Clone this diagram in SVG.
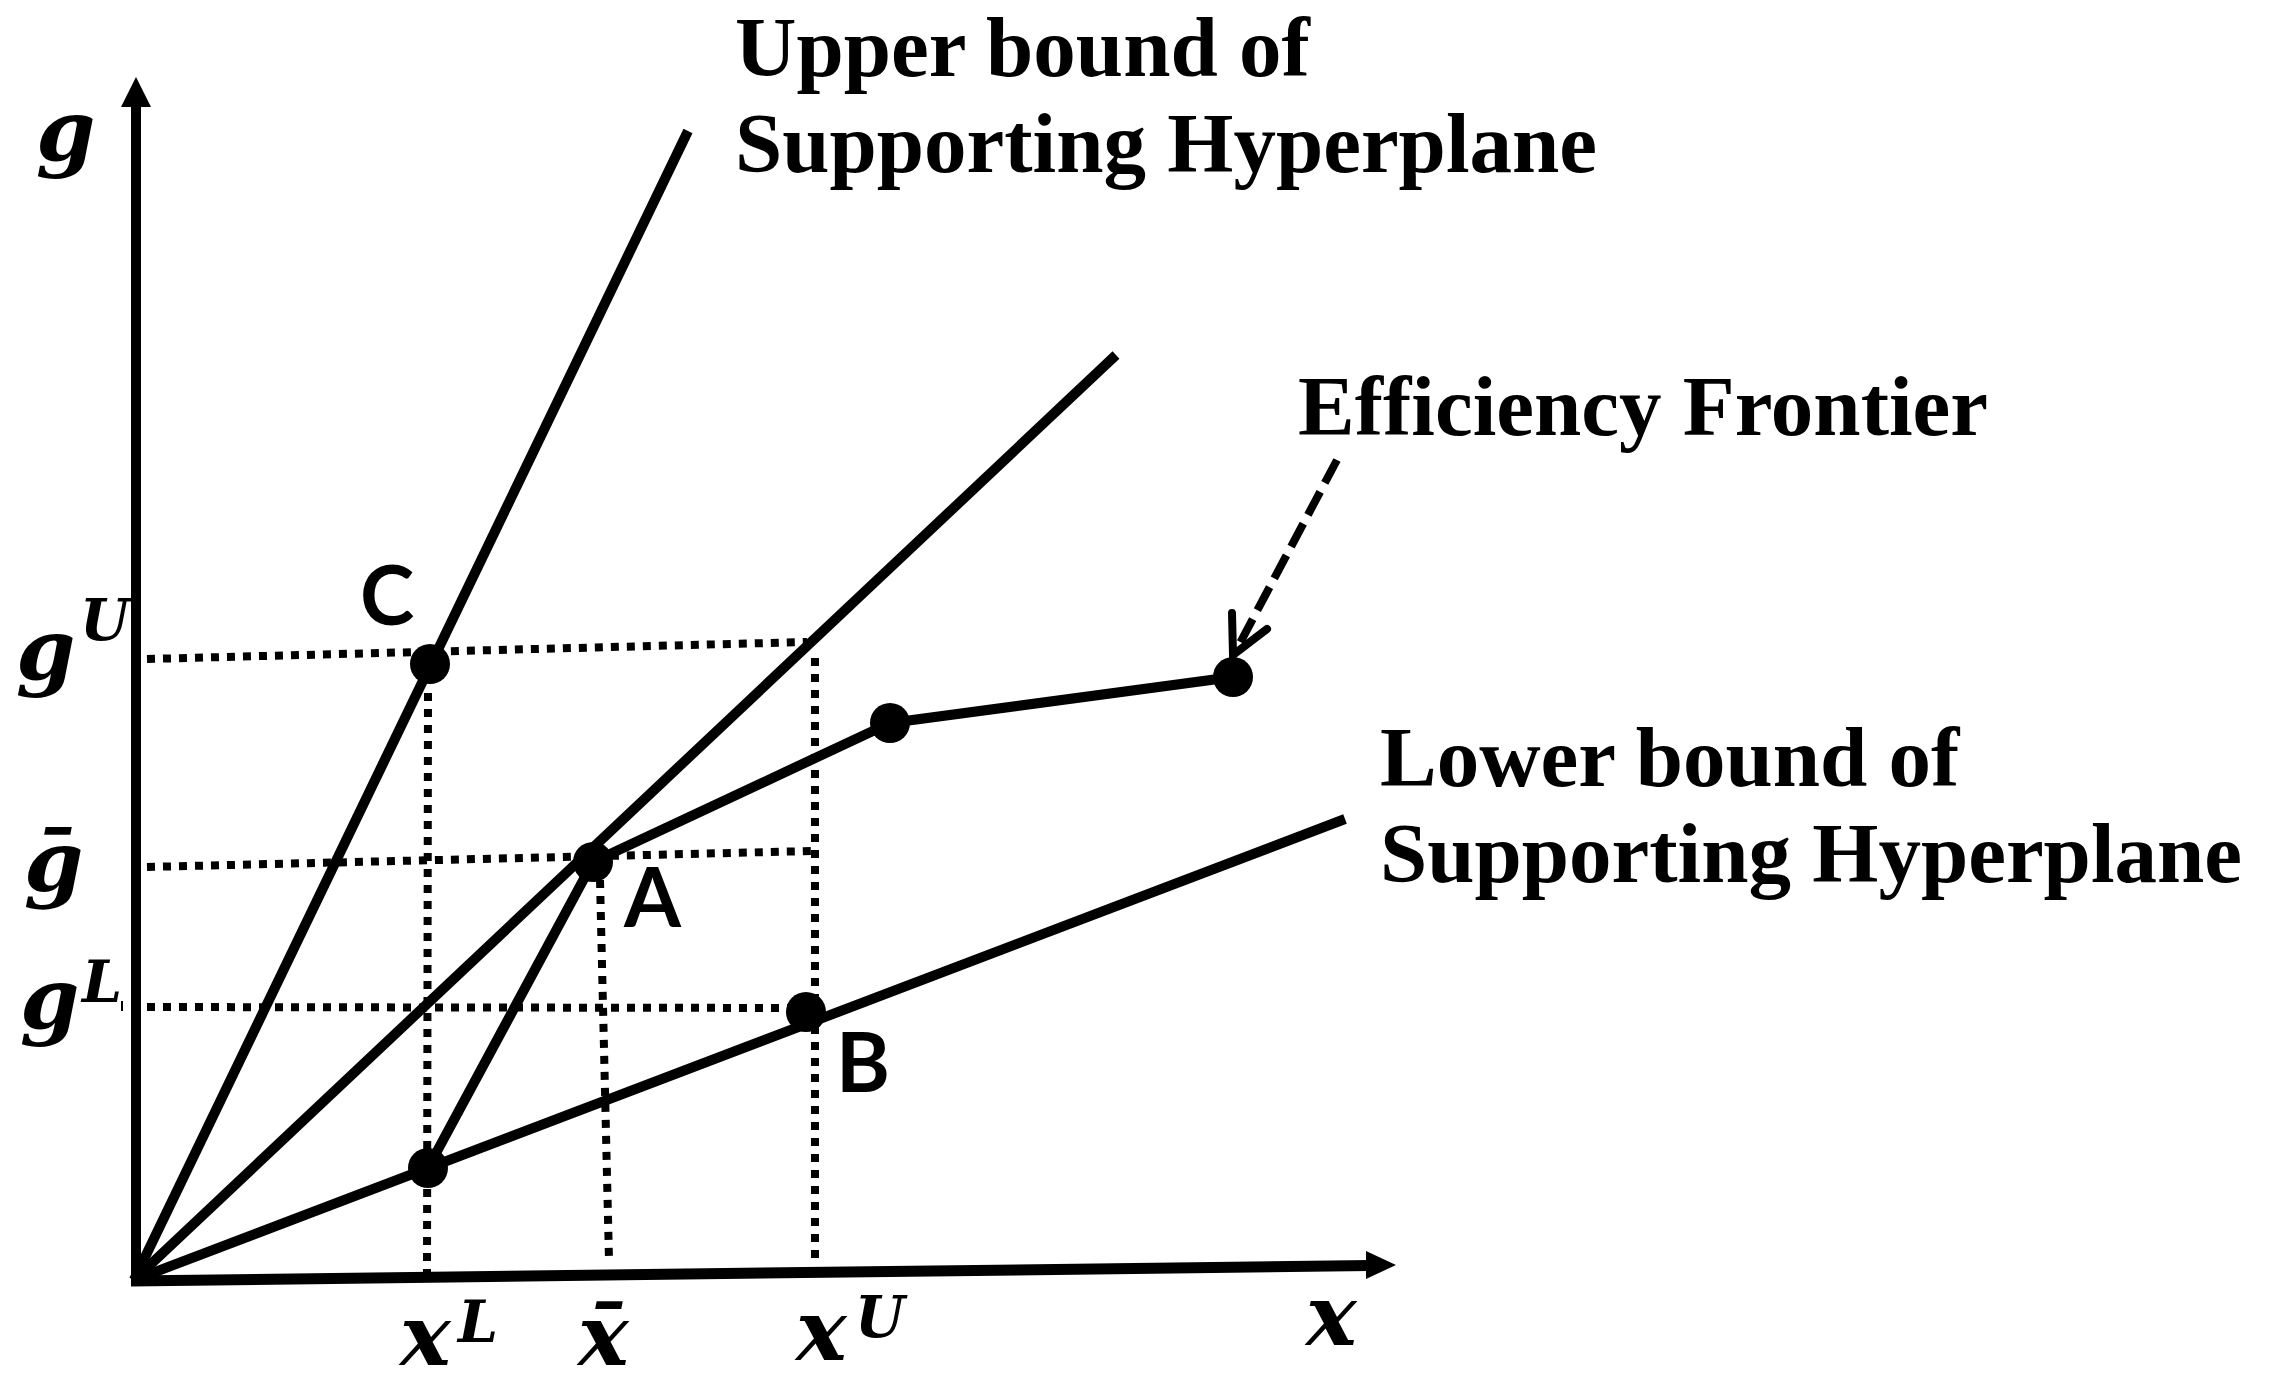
<svg xmlns="http://www.w3.org/2000/svg" width="2272" height="1387" viewBox="0 0 2272 1387">
<defs>
<style>
.ln{stroke:#000;stroke-width:10;fill:none;stroke-linecap:butt;stroke-linejoin:round}
.dot{stroke:#000;stroke-width:8;fill:none;stroke-dasharray:8 8}
.dash{stroke:#000;stroke-width:8;fill:none;stroke-dasharray:26 10}
.pt{fill:#000}
.title{font-family:"Liberation Serif","Times New Roman",serif;font-weight:bold;font-size:85px;fill:#000}
.math{font-family:"DejaVu Serif",serif;font-weight:bold;font-style:italic;font-size:85px;fill:#000}
.sup{font-family:"DejaVu Serif",serif;font-weight:bold;font-style:italic;font-size:57px;fill:#000}
.pl{font-family:Lato,"Open Sans",sans-serif;font-weight:bold;font-size:82px;fill:#000}
</style>
</defs>
<rect width="2272" height="1387" fill="#fff"/>
<g id="axes">
<line class="ln" x1="136" y1="1286" x2="136" y2="100"/>
<polygon points="136,77 121,107 151,107" fill="#000"/>
<line x1="131" y1="1281" x2="1370" y2="1265.5" stroke="#000" stroke-width="11"/>
<polygon points="1396,1265 1366,1251 1366,1279" fill="#000"/>
<line x1="122" y1="1001" x2="122" y2="1011" stroke="#000" stroke-width="2"/>
</g>
<g id="connectors">
<line class="ln" x1="134" y1="1280" x2="688" y2="131"/>
<line class="ln" x1="134" y1="1280" x2="1116" y2="355"/>
<line class="ln" x1="134" y1="1280" x2="1345" y2="819"/>
<polyline class="ln" points="428,1168 593,862 890,723 1233,677"/>
<line class="dot" x1="147" y1="659" x2="807" y2="642"/>
<line class="dot" x1="147" y1="867" x2="812" y2="851"/>
<line class="dot" x1="147" y1="1007" x2="800" y2="1008"/>
<line class="dot" x1="428" y1="693" x2="427" y2="1272"/>
<line class="dot" x1="600" y1="880" x2="609" y2="1260"/>
<line class="dot" x1="815" y1="658" x2="815" y2="1264"/>
<line class="dash" x1="1337" y1="460" x2="1240" y2="643"/>
<polyline points="1232,613 1233,655 1267,629" fill="none" stroke="#000" stroke-width="8" stroke-linejoin="miter" stroke-linecap="round"/>
</g>
<g id="node-C"><circle class="pt" cx="430" cy="664" r="20"/><text class="pl" x="360" y="625">C</text></g>
<g id="node-A"><circle class="pt" cx="593" cy="862" r="20"/><text class="pl" x="624" y="927">A</text></g>
<g id="node-B"><circle class="pt" cx="806" cy="1012" r="20"/><text class="pl" x="836" y="1092">B</text></g>
<g id="node-xL"><circle class="pt" cx="428" cy="1168" r="20"/></g>
<g id="node-F2"><circle class="pt" cx="890" cy="723" r="20"/></g>
<g id="node-F3"><circle class="pt" cx="1233" cy="677" r="20"/></g>
<g id="axis-labels">
<text class="math" x="36" y="160">g</text>
<text class="math" x="16" y="679">g</text><text class="sup" x="80" y="640">U</text>
<text class="math" x="24" y="891">g&#x304;</text>
<text class="math" x="20" y="1028">g</text><text class="sup" x="82" y="1002">L</text>
<text class="math" x="400" y="1365">x</text><text class="sup" x="458" y="1342">L</text>
<text class="math" x="578" y="1365">x&#x304;</text>
<text class="math" x="796" y="1360">x</text><text class="sup" x="855" y="1337">U</text>
<text class="math" x="1306" y="1345">x</text>
</g>
<g id="titles">
<text class="title" x="735" y="76">Upper bound of</text>
<text class="title" x="735" y="172">Supporting Hyperplane</text>
<text class="title" x="1298" y="435">Efficiency Frontier</text>
<text class="title" x="1380" y="786">Lower bound of</text>
<text class="title" x="1380" y="882">Supporting Hyperplane</text>
</g>
</svg>
